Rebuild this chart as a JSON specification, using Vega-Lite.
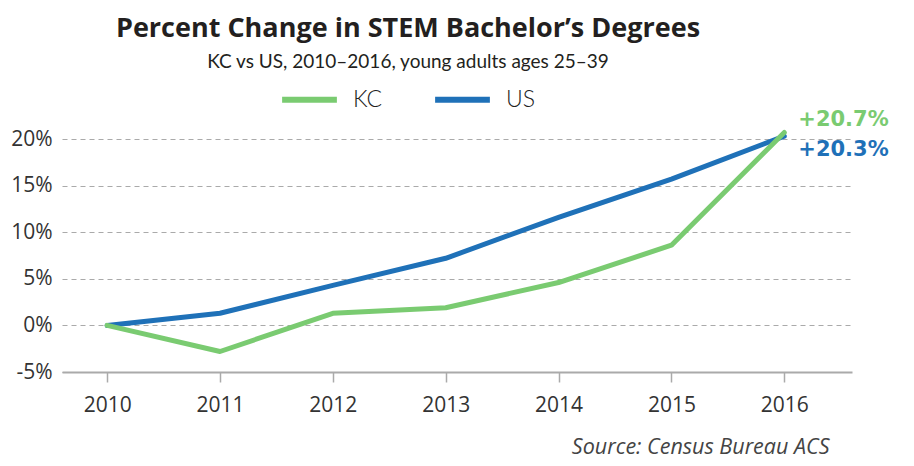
{
  "$schema": "https://vega.github.io/schema/vega-lite/v6.json",
  "autosize": "none",
  "width": 790,
  "height": 233,
  "padding": {"left": 62, "top": 139, "right": 62, "bottom": 94},
  "background": "white",
  "config": {"view": {"stroke": null}},
  "title": {
    "text": "Percent Change in STEM Bachelor’s Degrees",
    "subtitle": "KC vs US, 2010–2016, young adults ages 25–39",
    "anchor": "middle",
    "dx": -49,
    "offset": -4,
    "font": "Open Sans",
    "fontSize": 27,
    "fontWeight": "bold",
    "color": "#231f20",
    "subtitleFont": "Lato",
    "subtitleFontSize": 19,
    "subtitleColor": "#231f20",
    "subtitlePadding": 10
  },
  "datasets": {
    "series": [
      {"year": 2010, "series": "KC", "value": 0},
      {"year": 2011, "series": "KC", "value": -2.8},
      {"year": 2012, "series": "KC", "value": 1.3},
      {"year": 2013, "series": "KC", "value": 1.9},
      {"year": 2014, "series": "KC", "value": 4.6},
      {"year": 2015, "series": "KC", "value": 8.6},
      {"year": 2016, "series": "KC", "value": 20.7},
      {"year": 2010, "series": "US", "value": 0},
      {"year": 2011, "series": "US", "value": 1.3},
      {"year": 2012, "series": "US", "value": 4.3},
      {"year": 2013, "series": "US", "value": 7.2},
      {"year": 2014, "series": "US", "value": 11.6},
      {"year": 2015, "series": "US", "value": 15.7},
      {"year": 2016, "series": "US", "value": 20.3}
    ],
    "labels": [
      {"year": 2016, "series": "KC", "value": 20.7, "label": "+20.7%"},
      {"year": 2016, "series": "US", "value": 20.3, "label": "+20.3%"}
    ]
  },
  "encoding": {
    "x": {
      "field": "year",
      "type": "quantitative",
      "scale": {"domain": [2009.6, 2016.6], "nice": false, "zero": false},
      "axis": {
        "values": [2010, 2011, 2012, 2013, 2014, 2015, 2016],
        "format": "d",
        "grid": false,
        "domainColor": "#aaaaaa",
        "domainWidth": 2,
        "tickColor": "#aaaaaa",
        "tickWidth": 1.5,
        "tickSize": 10,
        "labelFont": "Open Sans",
        "labelFontSize": 21,
        "labelColor": "#333333",
        "labelPadding": 12,
        "title": "Source: Census Bureau ACS",
        "titleFont": "Open Sans",
        "titleFontSize": 21.5,
        "titleFontStyle": "italic",
        "titleFontWeight": "normal",
        "titleColor": "#444444",
        "titleAlign": "right",
        "titleX": 767,
        "titleY": 81,
        "titleBaseline": "alphabetic"
      }
    },
    "y": {
      "field": "value",
      "type": "quantitative",
      "scale": {"domain": [-5, 20], "nice": false, "zero": false},
      "axis": {
        "values": [-5, 0, 5, 10, 15, 20],
        "labelExpr": "datum.value + '%'",
        "domain": false,
        "ticks": false,
        "grid": true,
        "gridColor": "#aaaaaa",
        "gridDash": [5, 4],
        "gridWidth": 1.2,
        "labelFont": "Open Sans",
        "labelFontSize": 21,
        "labelColor": "#333333",
        "labelPadding": 10,
        "title": null
      }
    }
  },
  "layer": [
    {
      "data": {"name": "series"},
      "transform": [{"filter": "datum.series === 'US'"}],
      "mark": {"type": "line", "strokeWidth": 5, "strokeJoin": "round", "strokeCap": "round", "clip": false},
      "encoding": {
        "color": {
          "field": "series",
          "type": "nominal",
          "scale": {"domain": ["KC", "US"], "range": ["#7acb71", "#1f71b8"]},
          "legend": {
            "orient": "none",
            "legendX": 217,
            "legendY": -70,
            "direction": "horizontal",
            "title": null,
            "symbolType": "stroke",
            "symbolSize": 3000,
            "symbolStrokeWidth": 6,
            "labelFont": "Lato",
            "labelFontSize": 23,
            "labelFontWeight": 300,
            "labelColor": "#222222",
            "labelOffset": 13,
            "columnPadding": 40
          }
        }
      }
    },
    {
      "data": {"name": "series"},
      "transform": [{"filter": "datum.series === 'KC'"}],
      "mark": {"type": "line", "strokeWidth": 5, "strokeJoin": "round", "strokeCap": "round", "clip": false},
      "encoding": {
        "color": {"field": "series", "type": "nominal"}
      }
    },
    {
      "data": {"name": "labels"},
      "transform": [{"filter": "datum.series === 'KC'"}],
      "mark": {"type": "text", "align": "left", "baseline": "middle", "dx": 14, "dy": -12, "font": "DejaVu Sans", "fontSize": 21, "fontWeight": "bold"},
      "encoding": {
        "text": {"field": "label"},
        "color": {"field": "series", "type": "nominal"}
      }
    },
    {
      "data": {"name": "labels"},
      "transform": [{"filter": "datum.series === 'US'"}],
      "mark": {"type": "text", "align": "left", "baseline": "middle", "dx": 14, "dy": 14, "font": "DejaVu Sans", "fontSize": 21, "fontWeight": "bold"},
      "encoding": {
        "text": {"field": "label"},
        "color": {"field": "series", "type": "nominal"}
      }
    }
  ]
}
